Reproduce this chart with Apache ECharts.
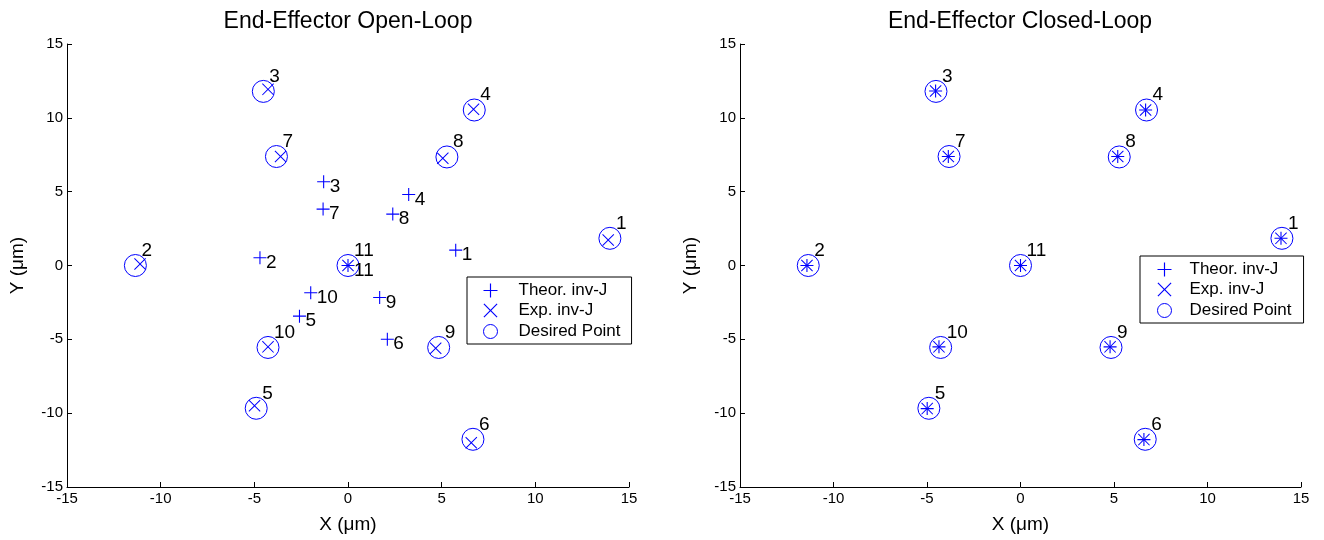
<!DOCTYPE html>
<html><head><meta charset="utf-8">
<script src="https://cdn.jsdelivr.net/npm/echarts@6/dist/echarts.min.js"></script>
<style>html,body{margin:0;padding:0;background:#fff}#c{width:1324px;height:540px}</style>
</head><body><div id="c"></div>
<script>
// ---- data ----
const pointLabels = ['1','2','3','4','5','6','7','8','9','10','11'];
const xTicks = [-15,-10,-5,0,5,10,15];

const desiredX = [13.98, -11.35, -4.52, 6.74, -4.90, 6.67, -3.82, 5.28, 4.84, -4.27, 0];
const desiredY = [1.84, 0.0, 11.79, 10.53, -9.67, -11.77, 7.38, 7.35, -5.55, -5.55, 0];

// open-loop
const openTheorX = [5.75, -4.70, -1.30, 3.24, -2.59, 2.10, -1.33, 2.39, 1.69, -1.99, 0];
const openTheorY = [1.04, 0.52, 5.67, 4.81, -3.43, -4.99, 3.82, 3.48, -2.17, -1.85, 0];
const openExpX = [13.89, -11.10, -4.27, 6.70, -4.99, 6.58, -3.60, 5.06, 4.68, -4.27, 0];
const openExpY = [1.73, 0.10, 11.93, 10.58, -9.50, -12.00, 7.38, 7.26, -5.60, -5.51, 0];

// closed-loop
const closedTheorX = [13.93, -11.42, -4.54, 6.69, -4.99, 6.60, -3.86, 5.20, 4.79, -4.36, 0];
const closedTheorY = [1.84, 0.0, 11.82, 10.53, -9.69, -11.79, 7.38, 7.38, -5.51, -5.51, 0];
const closedExpX = [13.93, -11.42, -4.54, 6.69, -4.99, 6.60, -3.86, 5.20, 4.79, -4.36, 0];
const closedExpY = [1.84, 0.0, 11.82, 10.53, -9.69, -11.79, 7.38, 7.38, -5.51, -5.51, 0];

const legendNames = ['Theor. inv-J', 'Exp. inv-J', 'Desired Point'];

// ---- chart ----
const FONT = 'Liberation Sans, Arial, sans-serif';
const BLUE = '#0000ff';
// thin filled outlines for "+" and "x" markers
const PLUS = 'path://M0,5.5L5.5,5.5L5.5,0L6.5,0L6.5,5.5L12,5.5L12,6.5L6.5,6.5L6.5,12L5.5,12L5.5,6.5L0,6.5Z';
const CROSS = 'path://M0,0.7L0.7,0L6,5.3L11.3,0L12,0.7L6.7,6L12,11.3L11.3,12L6,6.7L0.7,12L0,11.3L5.3,6Z';
const legendIcons = [PLUS, CROSS, 'circle'];

const FILLED = {color: BLUE, borderColor: 'none', borderWidth: 0, opacity: 1};
const RING = {color: 'none', borderColor: BLUE, borderWidth: 1, opacity: 1};

function pts(xs, ys) { return xs.map((x, i) => [x, ys[i], pointLabels[i]]); }

function lbl(dx, dy) {
  return {show: true, position: 'inside', align: 'left', verticalAlign: 'middle',
    offset: [dx, dy], formatter: p => p.value[2], fontSize: 19, color: '#000', fontFamily: FONT};
}

function ser(name, data, gi, symbol, size, style, label) {
  return {
    type: 'scatter', name, xAxisIndex: gi, yAxisIndex: gi, data,
    symbol, symbolSize: size,
    itemStyle: style,
    emphasis: {disabled: true},
    label: label || {show: false},
    z: 3
  };
}

function xAx(gi) {
  return {type: 'value', gridIndex: gi, min: -15, max: 15, interval: 5,
    name: 'X (μm)', nameLocation: 'middle', nameGap: 28,
    nameTextStyle: {fontSize: 19, color: '#000', fontFamily: FONT},
    axisLine: {onZero: false, lineStyle: {color: '#000', width: 1}},
    axisTick: {inside: true, length: 5, lineStyle: {color: '#000'}},
    axisLabel: {fontSize: 15, color: '#000', fontFamily: FONT, margin: 4},
    splitLine: {show: false}};
}
function yAx(gi) {
  return {type: 'value', gridIndex: gi, min: -15, max: 15, interval: 5,
    name: 'Y (μm)', nameLocation: 'middle', nameGap: 40, nameRotate: 90,
    nameTextStyle: {fontSize: 19, color: '#000', fontFamily: FONT},
    axisLine: {onZero: false, lineStyle: {color: '#000', width: 1}},
    axisTick: {inside: true, length: 5, lineStyle: {color: '#000'}},
    axisLabel: {fontSize: 15, color: '#000', fontFamily: FONT, margin: 4},
    splitLine: {show: false}};
}

function legend(left, top, padding, itemWidth) {
  return {
    left, top, orient: 'vertical', padding,
    itemWidth, itemHeight: 14, itemGap: 3,
    backgroundColor: '#fff', borderColor: '#000', borderWidth: 1,
    selectedMode: false,
    textStyle: {fontSize: 17, color: '#000', fontFamily: FONT, lineHeight: 14},
    data: legendNames.map((n, i) => ({
      name: n, icon: legendIcons[i],
      itemStyle: i < 2 ? FILLED : RING
    }))
  };
}

const chart = echarts.init(document.getElementById('c'), null, {renderer: 'canvas'});
chart.setOption({
  animation: false,
  backgroundColor: '#fff',
  title: [
    {text: 'End-Effector Open-Loop', left: 348, top: 10, textAlign: 'center', padding: 0,
     textStyle: {fontSize: 23, fontWeight: 'normal', color: '#000', fontFamily: FONT}},
    {text: 'End-Effector Closed-Loop', left: 1020, top: 10, textAlign: 'center', padding: 0,
     textStyle: {fontSize: 23, fontWeight: 'normal', color: '#000', fontFamily: FONT}}
  ],
  grid: [
    {left: 67, top: 44, width: 562, height: 443},
    {left: 740, top: 44, width: 561, height: 443}
  ],
  xAxis: [xAx(0), xAx(1)],
  yAxis: [yAx(0), yAx(1)],
  legend: [legend(467, 277, [5, 11, 3, 14], 46), legend(1140, 256, [5, 12, 3, 15], 40)],
  series: [
    ser('Theor. inv-J', pts(openTheorX, openTheorY), 0, PLUS, 13, FILLED, lbl(6, 5)),
    ser('Exp. inv-J', pts(openExpX, openExpY), 0, CROSS, 12, FILLED),
    ser('Desired Point', pts(desiredX, desiredY), 0, 'circle', 22, RING, lbl(6, -15)),
    ser('Theor. inv-J', pts(closedTheorX, closedTheorY), 1, PLUS, 13, FILLED),
    ser('Exp. inv-J', pts(closedExpX, closedExpY), 1, CROSS, 12, FILLED),
    ser('Desired Point', pts(desiredX, desiredY), 1, 'circle', 22, RING, lbl(6, -15))
  ]
});
</script>
</body></html>
